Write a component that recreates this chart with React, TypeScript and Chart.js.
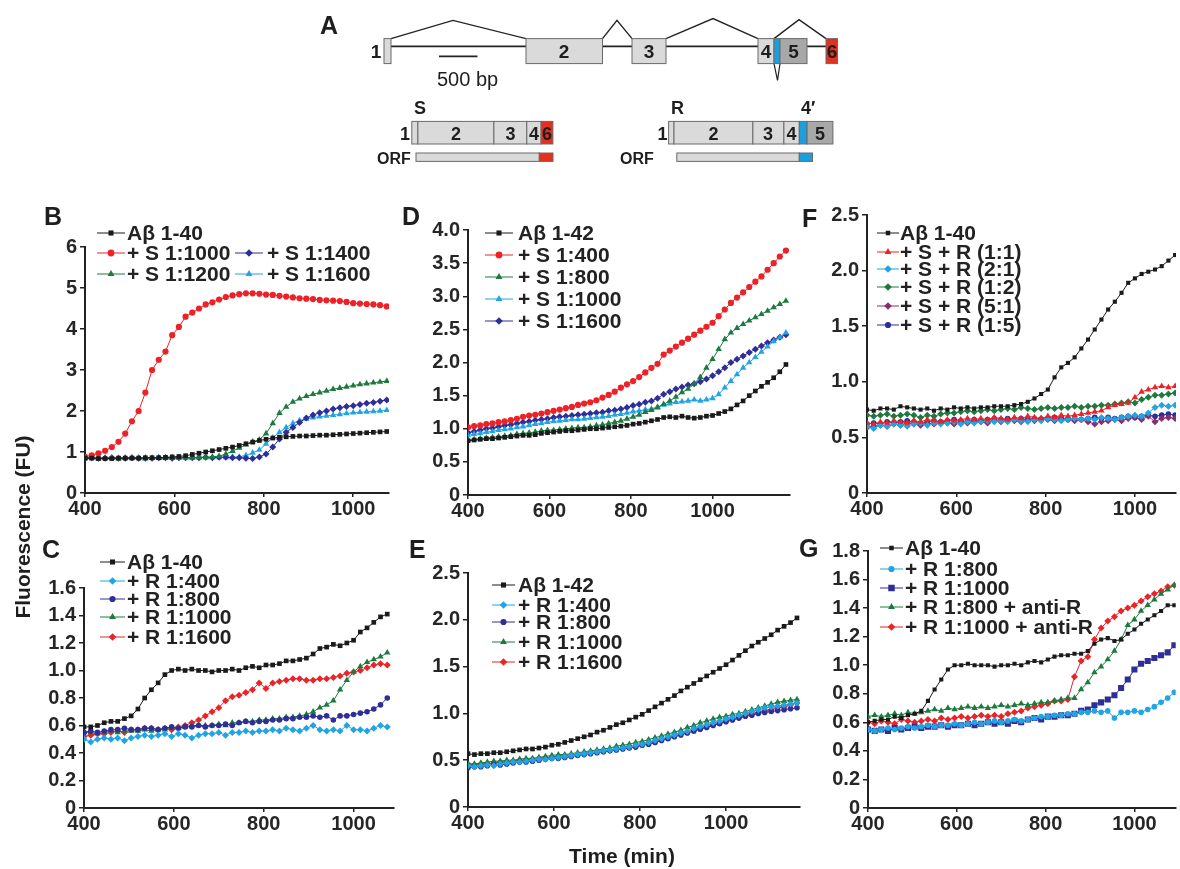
import React, { useEffect, useRef } from 'react';
import { Chart, registerables } from 'chart.js';

Chart.register(...registerables);

const FONT = "'Liberation Sans', Arial, Helvetica, sans-serif";

// ---------------- data (time step 15 min, starting at 400 min) ----------------
const T_START = 400;
const T_STEP = 15;
const X_TICKS = [400, 600, 800, 1000];

// Panel B
const B_AB40 = [0.85,0.85,0.84,0.84,0.84,0.85,0.85,0.85,0.85,0.86,0.86,0.86,0.87,0.88,0.89,0.91,0.94,0.97,1.00,1.03,1.06,1.09,1.12,1.16,1.20,1.24,1.28,1.31,1.34,1.36,1.37,1.38,1.39,1.39,1.40,1.41,1.41,1.42,1.43,1.44,1.45,1.46,1.47,1.48,1.49,1.50];
const B_S1000 = [0.88,0.92,0.97,1.03,1.12,1.25,1.45,1.75,2.00,2.45,3.00,3.25,3.45,3.85,4.05,4.30,4.40,4.50,4.60,4.65,4.72,4.78,4.82,4.85,4.87,4.87,4.86,4.84,4.83,4.81,4.79,4.77,4.75,4.74,4.73,4.71,4.70,4.69,4.68,4.66,4.63,4.62,4.61,4.60,4.58,4.55];
const B_S1200 = [0.85,0.85,0.84,0.85,0.85,0.84,0.85,0.85,0.85,0.84,0.85,0.85,0.85,0.86,0.86,0.86,0.86,0.87,0.87,0.88,0.90,0.95,1.02,1.10,1.18,1.25,1.30,1.45,1.70,1.95,2.10,2.22,2.30,2.36,2.41,2.45,2.49,2.53,2.56,2.59,2.62,2.65,2.67,2.69,2.71,2.73];
const B_S1400 = [0.85,0.86,0.85,0.85,0.86,0.85,0.85,0.86,0.85,0.85,0.85,0.86,0.86,0.85,0.86,0.86,0.86,0.86,0.87,0.86,0.87,0.87,0.86,0.86,0.85,0.84,0.88,0.95,1.12,1.32,1.48,1.60,1.72,1.83,1.90,1.96,2.00,2.05,2.08,2.11,2.13,2.16,2.19,2.21,2.24,2.27];
const B_S1600 = [0.84,0.85,0.85,0.86,0.85,0.85,0.86,0.85,0.86,0.86,0.85,0.86,0.86,0.86,0.86,0.87,0.86,0.87,0.87,0.87,0.87,0.87,0.88,0.88,0.92,0.98,1.05,1.20,1.35,1.48,1.60,1.70,1.77,1.81,1.84,1.86,1.88,1.90,1.92,1.94,1.96,1.97,1.98,1.99,2.00,2.02];

// Panel C
const C_AB40 = [0.59,0.59,0.60,0.62,0.63,0.63,0.65,0.67,0.72,0.80,0.86,0.91,0.97,1.00,1.01,1.00,1.01,1.00,1.00,0.99,1.00,1.00,1.01,1.00,1.02,1.03,1.02,1.04,1.04,1.05,1.07,1.07,1.08,1.09,1.12,1.16,1.17,1.19,1.18,1.20,1.22,1.28,1.31,1.35,1.39,1.41];
const C_R400 = [0.50,0.48,0.50,0.51,0.50,0.51,0.49,0.51,0.52,0.53,0.52,0.53,0.54,0.52,0.54,0.53,0.51,0.53,0.54,0.54,0.55,0.53,0.55,0.55,0.56,0.55,0.56,0.56,0.57,0.56,0.58,0.57,0.56,0.58,0.60,0.57,0.56,0.57,0.56,0.60,0.57,0.57,0.56,0.58,0.60,0.59];
const C_R800 = [0.55,0.56,0.55,0.56,0.57,0.57,0.58,0.57,0.57,0.58,0.58,0.57,0.58,0.59,0.58,0.59,0.59,0.60,0.59,0.60,0.60,0.61,0.60,0.62,0.63,0.62,0.63,0.63,0.64,0.64,0.65,0.65,0.66,0.66,0.67,0.66,0.67,0.64,0.67,0.67,0.68,0.69,0.70,0.72,0.75,0.80];
const C_R1000 = [0.55,0.55,0.54,0.55,0.56,0.55,0.56,0.56,0.56,0.57,0.56,0.57,0.57,0.58,0.58,0.59,0.60,0.60,0.60,0.60,0.61,0.60,0.62,0.62,0.63,0.63,0.64,0.64,0.65,0.65,0.66,0.66,0.67,0.68,0.70,0.73,0.75,0.78,0.86,0.93,0.99,1.03,1.06,1.08,1.10,1.13];
const C_R1600 = [0.52,0.53,0.54,0.54,0.55,0.56,0.55,0.57,0.57,0.58,0.58,0.57,0.58,0.57,0.59,0.60,0.62,0.64,0.67,0.70,0.73,0.78,0.81,0.82,0.84,0.86,0.91,0.87,0.91,0.92,0.93,0.94,0.94,0.93,0.93,0.94,0.94,0.95,0.96,0.98,0.99,1.00,1.02,1.04,1.05,1.04];

// Panel D
const D_AB42 = [0.82,0.83,0.84,0.85,0.85,0.86,0.87,0.88,0.89,0.90,0.90,0.91,0.93,0.94,0.95,0.96,0.97,0.97,0.98,0.99,1.00,1.00,1.01,1.02,1.03,1.04,1.05,1.07,1.08,1.10,1.12,1.14,1.17,1.18,1.17,1.19,1.17,1.16,1.17,1.19,1.20,1.23,1.26,1.30,1.36,1.42,1.50,1.57,1.64,1.70,1.77,1.86,1.97];
const D_S400 = [1.02,1.04,1.05,1.07,1.08,1.10,1.11,1.13,1.15,1.18,1.20,1.21,1.23,1.25,1.27,1.29,1.31,1.33,1.36,1.38,1.40,1.43,1.47,1.51,1.56,1.62,1.67,1.72,1.78,1.85,1.92,1.98,2.12,2.18,2.24,2.30,2.36,2.42,2.48,2.54,2.60,2.70,2.80,2.90,2.98,3.06,3.14,3.22,3.30,3.40,3.50,3.60,3.69];
const D_S800 = [0.83,0.84,0.85,0.86,0.87,0.88,0.89,0.90,0.92,0.93,0.94,0.95,0.97,0.98,0.98,0.99,1.00,1.01,1.02,1.02,1.03,1.05,1.06,1.08,1.10,1.12,1.15,1.18,1.21,1.25,1.28,1.32,1.37,1.42,1.48,1.55,1.60,1.68,1.78,1.92,2.05,2.20,2.35,2.45,2.52,2.58,2.63,2.68,2.73,2.78,2.83,2.88,2.93];
const D_S1000 = [0.90,0.92,0.93,0.95,0.96,0.98,0.99,1.00,1.02,1.03,1.05,1.07,1.08,1.10,1.11,1.12,1.13,1.14,1.14,1.15,1.16,1.17,1.18,1.19,1.21,1.22,1.24,1.26,1.27,1.29,1.30,1.33,1.36,1.38,1.40,1.41,1.42,1.44,1.42,1.44,1.46,1.52,1.62,1.72,1.82,1.92,2.00,2.08,2.16,2.24,2.32,2.38,2.45];
const D_S1600 = [0.94,0.96,0.98,1.00,1.01,1.03,1.05,1.06,1.08,1.10,1.11,1.13,1.14,1.15,1.17,1.18,1.19,1.20,1.21,1.22,1.23,1.24,1.25,1.27,1.28,1.30,1.32,1.35,1.37,1.40,1.42,1.46,1.52,1.56,1.60,1.63,1.66,1.68,1.71,1.75,1.80,1.86,1.92,2.00,2.05,2.10,2.15,2.20,2.25,2.30,2.34,2.38,2.42];

// Panel E
const E_AB42 = [0.57,0.56,0.57,0.57,0.58,0.58,0.59,0.60,0.61,0.62,0.62,0.63,0.64,0.66,0.67,0.69,0.71,0.73,0.75,0.77,0.80,0.82,0.85,0.88,0.90,0.93,0.96,0.99,1.03,1.07,1.11,1.15,1.19,1.24,1.28,1.32,1.36,1.40,1.44,1.48,1.52,1.57,1.62,1.67,1.72,1.76,1.80,1.84,1.89,1.93,1.97,2.02];
const E_R400 = [0.44,0.43,0.44,0.45,0.44,0.46,0.47,0.48,0.48,0.49,0.50,0.51,0.51,0.52,0.53,0.54,0.55,0.56,0.57,0.58,0.59,0.60,0.61,0.62,0.63,0.64,0.66,0.67,0.69,0.71,0.73,0.75,0.77,0.79,0.81,0.84,0.86,0.88,0.90,0.92,0.94,0.96,0.98,1.00,1.02,1.04,1.06,1.07,1.08,1.09,1.10,1.11];
const E_R800 = [0.42,0.43,0.43,0.44,0.45,0.45,0.46,0.47,0.48,0.48,0.49,0.50,0.51,0.52,0.52,0.53,0.54,0.55,0.56,0.57,0.58,0.59,0.60,0.61,0.62,0.63,0.64,0.66,0.67,0.69,0.71,0.73,0.75,0.77,0.79,0.81,0.83,0.85,0.87,0.89,0.91,0.93,0.95,0.97,0.98,1.00,1.01,1.02,1.03,1.04,1.05,1.06];
const E_R1000 = [0.46,0.46,0.47,0.48,0.49,0.49,0.50,0.50,0.51,0.52,0.52,0.53,0.54,0.55,0.56,0.56,0.57,0.58,0.59,0.60,0.61,0.62,0.63,0.65,0.66,0.67,0.69,0.70,0.72,0.74,0.76,0.78,0.80,0.82,0.85,0.87,0.90,0.92,0.94,0.96,0.97,0.99,1.00,1.02,1.04,1.06,1.08,1.10,1.12,1.13,1.14,1.15];
const E_R1600 = [0.46,0.45,0.46,0.46,0.47,0.48,0.48,0.49,0.50,0.50,0.51,0.52,0.52,0.53,0.54,0.55,0.55,0.56,0.57,0.58,0.59,0.60,0.61,0.62,0.63,0.64,0.65,0.67,0.68,0.70,0.72,0.74,0.76,0.78,0.80,0.82,0.84,0.86,0.88,0.90,0.92,0.94,0.96,0.98,1.00,1.01,1.03,1.04,1.06,1.07,1.09,1.11];

// Panel F
const F_AB40 = [0.75,0.74,0.76,0.76,0.75,0.78,0.77,0.76,0.75,0.76,0.74,0.76,0.75,0.77,0.76,0.77,0.76,0.77,0.77,0.78,0.78,0.78,0.79,0.80,0.82,0.85,0.89,0.93,1.04,1.13,1.17,1.22,1.30,1.38,1.47,1.56,1.65,1.72,1.80,1.89,1.93,1.97,1.99,2.01,2.04,2.09,2.14];
const F_SR11 = [0.63,0.62,0.64,0.63,0.65,0.64,0.63,0.65,0.64,0.66,0.65,0.64,0.66,0.65,0.66,0.67,0.66,0.67,0.66,0.68,0.67,0.66,0.68,0.67,0.69,0.68,0.67,0.69,0.68,0.70,0.69,0.70,0.71,0.72,0.73,0.74,0.77,0.79,0.80,0.81,0.86,0.91,0.93,0.95,0.96,0.95,0.96];
const F_SR21 = [0.60,0.58,0.61,0.60,0.62,0.61,0.60,0.62,0.63,0.61,0.63,0.62,0.63,0.64,0.62,0.64,0.63,0.64,0.65,0.64,0.65,0.64,0.66,0.65,0.64,0.66,0.65,0.67,0.66,0.65,0.66,0.67,0.66,0.67,0.66,0.68,0.67,0.66,0.68,0.69,0.70,0.69,0.72,0.77,0.79,0.78,0.79];
const F_SR12 = [0.70,0.69,0.70,0.71,0.69,0.70,0.71,0.70,0.68,0.70,0.69,0.71,0.72,0.72,0.73,0.74,0.73,0.74,0.75,0.74,0.75,0.76,0.75,0.77,0.76,0.75,0.76,0.77,0.76,0.77,0.77,0.78,0.77,0.78,0.78,0.79,0.79,0.80,0.81,0.82,0.81,0.84,0.86,0.88,0.88,0.89,0.90];
const F_SR51 = [0.59,0.60,0.61,0.60,0.62,0.61,0.63,0.62,0.61,0.63,0.62,0.64,0.63,0.62,0.64,0.63,0.65,0.64,0.63,0.65,0.64,0.66,0.65,0.64,0.66,0.65,0.67,0.66,0.65,0.67,0.66,0.65,0.66,0.64,0.62,0.64,0.65,0.66,0.65,0.67,0.68,0.66,0.69,0.64,0.67,0.68,0.67];
const F_SR15 = [0.62,0.63,0.62,0.64,0.63,0.64,0.65,0.64,0.63,0.64,0.65,0.64,0.65,0.66,0.65,0.64,0.66,0.65,0.66,0.67,0.66,0.67,0.66,0.67,0.66,0.67,0.66,0.67,0.68,0.67,0.66,0.67,0.66,0.67,0.68,0.67,0.68,0.67,0.68,0.69,0.68,0.69,0.70,0.69,0.70,0.71,0.70];

// Panel G
const G_AB40 = [0.60,0.61,0.62,0.62,0.64,0.63,0.65,0.66,0.68,0.75,0.83,0.90,0.97,1.00,1.00,1.01,1.00,1.00,1.00,0.99,1.00,1.00,1.01,1.00,1.02,1.03,1.02,1.04,1.06,1.07,1.07,1.08,1.08,1.10,1.15,1.18,1.19,1.17,1.18,1.22,1.25,1.29,1.32,1.35,1.38,1.42,1.42];
const G_R800 = [0.55,0.54,0.55,0.56,0.55,0.56,0.57,0.56,0.57,0.58,0.57,0.58,0.58,0.59,0.58,0.59,0.60,0.59,0.60,0.61,0.60,0.61,0.62,0.61,0.62,0.63,0.64,0.64,0.65,0.65,0.66,0.66,0.67,0.67,0.68,0.67,0.68,0.63,0.67,0.67,0.68,0.67,0.69,0.71,0.74,0.77,0.81];
const G_R1000 = [0.55,0.54,0.55,0.54,0.56,0.55,0.56,0.57,0.56,0.57,0.57,0.58,0.57,0.58,0.58,0.59,0.58,0.59,0.60,0.59,0.60,0.59,0.61,0.60,0.62,0.63,0.62,0.64,0.64,0.65,0.65,0.66,0.68,0.69,0.72,0.74,0.76,0.79,0.84,0.90,0.97,1.01,1.03,1.05,1.07,1.09,1.14];
const G_R800_ANTI = [0.64,0.65,0.64,0.65,0.66,0.65,0.67,0.66,0.67,0.68,0.69,0.68,0.70,0.69,0.70,0.71,0.70,0.71,0.70,0.71,0.72,0.71,0.72,0.73,0.72,0.73,0.74,0.74,0.75,0.76,0.77,0.77,0.83,0.88,0.95,0.99,1.04,1.10,1.18,1.28,1.32,1.38,1.42,1.46,1.50,1.53,1.56];
const G_R1000_ANTI = [0.60,0.59,0.61,0.60,0.59,0.62,0.61,0.60,0.61,0.62,0.61,0.63,0.62,0.63,0.64,0.63,0.64,0.65,0.64,0.65,0.64,0.66,0.67,0.68,0.70,0.71,0.72,0.73,0.75,0.75,0.76,0.92,1.03,1.06,1.18,1.26,1.31,1.34,1.38,1.40,1.42,1.45,1.48,1.50,1.52,1.55,1.56];

// y tick labels
const B_YTICKS = [0, 1, 2, 3, 4, 5, 6];
const C_YTICKS = [0, 0.2, 0.4, 0.6, 0.8, 1.0, 1.2, 1.4, 1.6];
const D_YTICKS = [0, 0.5, 1.0, 1.5, 2.0, 2.5, 3.0, 3.5, 4.0];
const E_YTICKS = [0, 0.5, 1.0, 1.5, 2.0, 2.5];
const F_YTICKS = [0, 0.5, 1.0, 1.5, 2.0, 2.5];
const G_YTICKS = [0, 0.2, 0.4, 0.6, 0.8, 1.0, 1.2, 1.4, 1.6, 1.8];

// ---------------- styles ----------------
const K = '#1a1a1a';
const RED = '#ec2227';
const GRN = '#1d7a3e';
const NAVY = '#2f2e98';
const CYAN = '#20a4e4';
const PURP = '#8a2d6e';

type Marker = 'circle' | 'rect' | 'triangle' | 'rectRot';
type Series = { label: string; values: number[]; color: string; marker: Marker; r?: number };
type Panel = {
  id: string;
  series: Series[];
  xMax: number;
  yTicks: number[];
  intLabels?: boolean;
  box: { L: number; R: number; T: number; B: number };
  legend: { dx: number[]; dy: number[]; len: number; text: number[] };
};

const RADIUS: Record<Marker, number> = { circle: 2.8, rect: 3.3, triangle: 3.7, rectRot: 3.5 };

const PANELS: Panel[] = [
  {
    id: 'B',
    series: [
      { label: 'Aβ 1-40', values: B_AB40, color: K, marker: 'rect' },
      { label: '+ S 1:1000', values: B_S1000, color: RED, marker: 'circle', r: 3.1 },
      { label: '+ S 1:1200', values: B_S1200, color: GRN, marker: 'triangle' },
      { label: '+ S 1:1400', values: B_S1400, color: NAVY, marker: 'rectRot' },
      { label: '+ S 1:1600', values: B_S1600, color: CYAN, marker: 'triangle' },
    ],
    xMax: 1080,
    yTicks: B_YTICKS,
    intLabels: true,
    box: { L: 85, R: 389, T: 247, B: 493 },
    legend: { dx: [12, 12, 12, 150, 150], dy: [-14, 6, 27, 6, 27], len: 28, text: [30, 30, 30, 32, 32] },
  },
  {
    id: 'C',
    series: [
      { label: 'Aβ 1-40', values: C_AB40, color: K, marker: 'rect' },
      { label: '+ R 1:400', values: C_R400, color: CYAN, marker: 'rectRot' },
      { label: '+ R 1:800', values: C_R800, color: NAVY, marker: 'circle' },
      { label: '+ R 1:1000', values: C_R1000, color: GRN, marker: 'triangle' },
      { label: '+ R 1:1600', values: C_R1600, color: RED, marker: 'rectRot' },
    ],
    xMax: 1090,
    yTicks: C_YTICKS,
    box: { L: 84, R: 394, T: 588, B: 808 },
    legend: { dx: [16, 16, 16, 16, 16], dy: [-26, -7, 11, 29, 49], len: 25, text: [27, 27, 27, 27, 27] },
  },
  {
    id: 'D',
    series: [
      { label: 'Aβ 1-42', values: D_AB42, color: K, marker: 'rect' },
      { label: '+ S 1:400', values: D_S400, color: RED, marker: 'circle', r: 3.1 },
      { label: '+ S 1:800', values: D_S800, color: GRN, marker: 'triangle' },
      { label: '+ S 1:1000', values: D_S1000, color: CYAN, marker: 'triangle' },
      { label: '+ S 1:1600', values: D_S1600, color: NAVY, marker: 'rectRot' },
    ],
    xMax: 1190,
    yTicks: D_YTICKS,
    box: { L: 468, R: 790, T: 230, B: 495 },
    legend: { dx: [17, 17, 17, 17, 17], dy: [3, 25, 47, 69, 91], len: 28, text: [33, 33, 33, 33, 33] },
  },
  {
    id: 'E',
    series: [
      { label: 'Aβ 1-42', values: E_AB42, color: K, marker: 'rect' },
      { label: '+ R 1:400', values: E_R400, color: CYAN, marker: 'rectRot' },
      { label: '+ R 1:800', values: E_R800, color: NAVY, marker: 'circle' },
      { label: '+ R 1:1000', values: E_R1000, color: GRN, marker: 'triangle' },
      { label: '+ R 1:1600', values: E_R1600, color: RED, marker: 'rectRot' },
    ],
    xMax: 1172,
    yTicks: E_YTICKS,
    box: { L: 468, R: 800, T: 573, B: 807 },
    legend: { dx: [24, 24, 24, 24, 24], dy: [12, 32, 49, 69, 89], len: 23, text: [26, 26, 26, 26, 26] },
  },
  {
    id: 'F',
    series: [
      { label: 'Aβ 1-40', values: F_AB40, color: K, marker: 'rect', r: 2.9 },
      { label: '+ S + R (1:1)', values: F_SR11, color: RED, marker: 'triangle' },
      { label: '+ S + R (2:1)', values: F_SR21, color: CYAN, marker: 'rectRot' },
      { label: '+ S + R (1:2)', values: F_SR12, color: GRN, marker: 'rectRot' },
      { label: '+ S + R (5:1)', values: F_SR51, color: PURP, marker: 'rectRot' },
      { label: '+ S + R (1:5)', values: F_SR15, color: NAVY, marker: 'circle' },
    ],
    xMax: 1092,
    yTicks: F_YTICKS,
    box: { L: 867, R: 1180, T: 215, B: 493 },
    legend: { dx: [10, 10, 10, 10, 10, 10], dy: [18, 37, 54, 72, 91, 110], len: 22, text: [23, 23, 23, 23, 23, 23] },
  },
  {
    id: 'G',
    series: [
      { label: 'Aβ 1-40', values: G_AB40, color: K, marker: 'rect', r: 2.9 },
      { label: '+ R 1:800', values: G_R800, color: CYAN, marker: 'circle' },
      { label: '+ R 1:1000', values: G_R1000, color: NAVY, marker: 'rect', r: 4.3 },
      { label: '+ R 1:800 + anti-R', values: G_R800_ANTI, color: GRN, marker: 'triangle' },
      { label: '+ R 1:1000 + anti-R', values: G_R1000_ANTI, color: RED, marker: 'rectRot' },
    ],
    xMax: 1093,
    yTicks: G_YTICKS,
    box: { L: 868, R: 1180, T: 551, B: 808 },
    legend: { dx: [12, 12, 12, 12, 12], dy: [-3, 18, 37, 56, 76], len: 23, text: [25, 25, 25, 25, 25] },
  },
];

const YW = 50;
const PT = 40;
const XH = 32;
const PR = 8;

function drawMarker(ctx: CanvasRenderingContext2D, m: Marker, x: number, y: number, r: number, color: string) {
  ctx.fillStyle = color;
  ctx.beginPath();
  if (m === 'circle') {
    ctx.arc(x, y, r, 0, Math.PI * 2);
  } else if (m === 'rect') {
    const s = r * Math.SQRT1_2;
    ctx.rect(x - s, y - s, 2 * s, 2 * s);
  } else if (m === 'triangle') {
    for (let k = 0; k < 3; k++) {
      const a = -Math.PI / 2 + (k * 2 * Math.PI) / 3;
      const px = x + Math.cos(a) * r;
      const py = y + Math.sin(a) * r;
      if (k === 0) ctx.moveTo(px, py);
      else ctx.lineTo(px, py);
    }
    ctx.closePath();
  } else {
    ctx.moveTo(x, y - r);
    ctx.lineTo(x + r, y);
    ctx.lineTo(x, y + r);
    ctx.lineTo(x - r, y);
    ctx.closePath();
  }
  ctx.fill();
}

function legendPlugin(panel: Panel) {
  return {
    id: 'panelLegend' + panel.id,
    afterDraw(chart: any) {
      const { ctx, chartArea } = chart;
      ctx.save();
      ctx.font = `bold 21px ${FONT}`;
      ctx.textBaseline = 'middle';
      ctx.textAlign = 'left';
      panel.series.forEach((s, i) => {
        const x0 = chartArea.left + panel.legend.dx[i];
        const y = chartArea.top + panel.legend.dy[i];
        ctx.strokeStyle = s.color;
        ctx.lineWidth = 1;
        ctx.beginPath();
        ctx.moveTo(x0, y);
        ctx.lineTo(x0 + panel.legend.len, y);
        ctx.stroke();
        drawMarker(ctx, s.marker, x0 + panel.legend.len / 2, y, (s.r ?? RADIUS[s.marker]) + 0.3, s.color);
        ctx.fillStyle = '#222';
        ctx.fillText(s.label, x0 + panel.legend.text[i], y + 1);
      });
      ctx.restore();
    },
  };
}

function fmtY(v: number, intLabels?: boolean) {
  if (v === 0) return '0';
  return intLabels ? String(Math.round(v)) : v.toFixed(1);
}

function PanelChart({ panel }: { panel: Panel }) {
  const ref = useRef<HTMLCanvasElement>(null);
  const pr = panel.box.R >= 1180 ? 0 : PR;
  const w = YW + (panel.box.R - panel.box.L) + pr;
  const h = PT + (panel.box.B - panel.box.T) + XH;

  useEffect(() => {
    if (!ref.current) return;
    const times = panel.series[0].values.map((_, i) => T_START + T_STEP * i);
    const tickFont = { family: FONT, size: 20, weight: 'bold' as const, lineHeight: 1 };
    const chart = new Chart(ref.current, {
      type: 'line',
      data: {
        datasets: panel.series.map((s) => ({
          label: s.label,
          data: s.values.map((v, i) => ({ x: times[i], y: v })),
          borderColor: s.color,
          backgroundColor: s.color,
          borderWidth: 1,
          pointStyle: s.marker,
          pointRadius: s.r ?? RADIUS[s.marker],
          pointBorderWidth: 0,
          pointBackgroundColor: s.color,
          tension: 0,
        })),
      },
      options: {
        animation: false,
        responsive: false,
        events: [],
        layout: { padding: { top: PT, right: pr, left: 0, bottom: 0 } },
        plugins: { legend: { display: false }, tooltip: { enabled: false } },
        scales: {
          x: {
            type: 'linear',
            min: 400,
            max: panel.xMax,
            afterBuildTicks: (s: any) => {
              s.ticks = X_TICKS.map((v) => ({ value: v }));
            },
            afterFit: (s: any) => {
              s.height = XH;
            },
            ticks: {
              font: tickFont,
              color: '#262626',
              padding: 2,
              maxRotation: 0,
              autoSkip: false,
              callback: (v: any) => String(v),
            },
            grid: { display: true, drawOnChartArea: false, drawTicks: true, tickLength: 4, color: '#222', lineWidth: 1.5 },
            border: { display: true, color: '#222', width: 2 },
          },
          y: {
            type: 'linear',
            min: 0,
            max: panel.yTicks[panel.yTicks.length - 1],
            afterBuildTicks: (s: any) => {
              s.ticks = panel.yTicks.map((v) => ({ value: v }));
            },
            afterFit: (s: any) => {
              s.width = YW;
            },
            ticks: {
              font: tickFont,
              color: '#262626',
              padding: 3,
              autoSkip: false,
              callback: (v: any) => fmtY(Number(v), panel.intLabels),
            },
            grid: { display: true, drawOnChartArea: false, drawTicks: true, tickLength: 5, color: '#222', lineWidth: 1.5 },
            border: { display: true, color: '#222', width: 2 },
          },
        },
      },
      plugins: [legendPlugin(panel)],
    } as any);
    return () => chart.destroy();
  }, [panel]);

  return (
    <canvas
      ref={ref}
      width={w}
      height={h}
      style={{ position: 'absolute', left: panel.box.L - YW, top: panel.box.T - PT, width: w, height: h }}
    />
  );
}

const LIGHT = '#dadada';
const DARK = '#a8a8a8';
const EDGE = '#6a6a6a';
const EX_RED = '#e3301f';
const EX_BLUE = '#1c9fdb';

function Box({ x1, x2, y1, y2, fill }: { x1: number; x2: number; y1: number; y2: number; fill: string }) {
  return <rect x={x1} y={y1} width={x2 - x1} height={y2 - y1} fill={fill} stroke={EDGE} strokeWidth={1} />;
}

function Lbl({ x, y, t, size = 19, anchor = 'middle' }: { x: number; y: number; t: string; size?: number; anchor?: string }) {
  return (
    <text x={x} y={y} fontSize={size} fontWeight="bold" textAnchor={anchor as any} fill="#1e1e1e">
      {t}
    </text>
  );
}

function Overlay() {
  const my1 = 38.6;
  const my2 = 63.6;
  const sy1 = 121.4;
  const sy2 = 144;
  const oy1 = 153;
  const oy2 = 161.4;
  return (
    <svg width={1180} height={869} style={{ position: 'absolute', left: 0, top: 0, pointerEvents: 'none' }} fontFamily={FONT}>
      {/* Panel A: gene structure */}
      <Lbl x={320} y={34} t="A" size={25} anchor="start" />
      <line x1={391} y1={46.4} x2={826} y2={46.4} stroke="#222" strokeWidth={1.6} />
      <polyline points="391,38.6 453,20.4 526,38.6" fill="none" stroke="#222" strokeWidth={1.4} />
      <polyline points="602.5,38.6 617,20.4 632,38.6" fill="none" stroke="#222" strokeWidth={1.4} />
      <polyline points="666,38.6 713,18.6 758,38.6" fill="none" stroke="#222" strokeWidth={1.4} />
      <polyline points="774,38.6 799,19.6 826,38.6" fill="none" stroke="#222" strokeWidth={1.4} />
      <polyline points="774,63.6 777.5,80.4 780,63.6" fill="none" stroke="#222" strokeWidth={1.2} />
      <Box x1={384} x2={391} y1={my1} y2={my2} fill={LIGHT} />
      <Box x1={526} x2={602.5} y1={my1} y2={my2} fill={LIGHT} />
      <Box x1={632} x2={666} y1={my1} y2={my2} fill={LIGHT} />
      <Box x1={758} x2={774} y1={my1} y2={my2} fill={LIGHT} />
      <Box x1={774} x2={780} y1={my1} y2={my2} fill={EX_BLUE} />
      <Box x1={780} x2={807} y1={my1} y2={my2} fill={DARK} />
      <Box x1={826} x2={837.5} y1={my1} y2={my2} fill={EX_RED} />
      <Lbl x={376} y={58} t="1" />
      <Lbl x={564} y={58} t="2" />
      <Lbl x={649} y={58} t="3" />
      <Lbl x={766} y={58} t="4" />
      <Lbl x={793.5} y={58} t="5" />
      <Lbl x={832} y={58} t="6" />
      <line x1={439} y1={56.4} x2={477.5} y2={56.4} stroke="#222" strokeWidth={1.8} />
      <text x={437} y={86} fontSize={20} fill="#1e1e1e">500 bp</text>

      {/* S transcript */}
      <Lbl x={414} y={114} t="S" size={18} anchor="start" />
      <Box x1={411.8} x2={417.9} y1={sy1} y2={sy2} fill={LIGHT} />
      <Box x1={417.9} x2={493.9} y1={sy1} y2={sy2} fill={LIGHT} />
      <Box x1={493.9} x2={526.8} y1={sy1} y2={sy2} fill={LIGHT} />
      <Box x1={526.8} x2={541.1} y1={sy1} y2={sy2} fill={LIGHT} />
      <Box x1={541.1} x2={552.9} y1={sy1} y2={sy2} fill={EX_RED} />
      <Lbl x={405} y={139.5} t="1" size={18} />
      <Lbl x={456} y={139.5} t="2" size={18} />
      <Lbl x={510.5} y={139.5} t="3" size={18} />
      <Lbl x={534} y={139.5} t="4" size={18} />
      <Lbl x={547} y={139.5} t="6" size={18} />
      <Box x1={416} x2={539.3} y1={oy1} y2={oy2} fill={LIGHT} />
      <Box x1={539.3} x2={553} y1={oy1} y2={oy2} fill={EX_RED} />
      <Lbl x={377} y={164} t="ORF" size={16} anchor="start" />

      {/* R transcript */}
      <Lbl x={671} y={114} t="R" size={18} anchor="start" />
      <Lbl x={801} y={114} t="4′" size={18} anchor="start" />
      <Box x1={668.6} x2={674} y1={sy1} y2={sy2} fill={LIGHT} />
      <Box x1={674} x2={752.9} y1={sy1} y2={sy2} fill={LIGHT} />
      <Box x1={752.9} x2={783.9} y1={sy1} y2={sy2} fill={LIGHT} />
      <Box x1={783.9} x2={799.3} y1={sy1} y2={sy2} fill={LIGHT} />
      <Box x1={799.3} x2={807.1} y1={sy1} y2={sy2} fill={EX_BLUE} />
      <Box x1={807.1} x2={832.9} y1={sy1} y2={sy2} fill={DARK} />
      <Lbl x={662.5} y={139.5} t="1" size={18} />
      <Lbl x={713.5} y={139.5} t="2" size={18} />
      <Lbl x={768} y={139.5} t="3" size={18} />
      <Lbl x={791.5} y={139.5} t="4" size={18} />
      <Lbl x={820} y={139.5} t="5" size={18} />
      <Box x1={676.8} x2={799.3} y1={oy1} y2={oy2} fill={LIGHT} />
      <Box x1={799.3} x2={812.5} y1={oy1} y2={oy2} fill={EX_BLUE} />
      <Lbl x={620} y={164} t="ORF" size={16} anchor="start" />

      {/* panel letters */}
      <Lbl x={44} y={225} t="B" size={25} anchor="start" />
      <Lbl x={402} y={225} t="D" size={25} anchor="start" />
      <Lbl x={802} y={227} t="F" size={25} anchor="start" />
      <Lbl x={42} y={558} t="C" size={25} anchor="start" />
      <Lbl x={409} y={558} t="E" size={25} anchor="start" />
      <Lbl x={799} y={557} t="G" size={25} anchor="start" />

      {/* axis titles */}
      <text x={30} y={527} fontSize={21} fontWeight="bold" textAnchor="middle" fill="#1e1e1e" transform="rotate(-90 30 527)">
        Fluorescence (FU)
      </text>
      <text x={622} y={863} fontSize={21} fontWeight="bold" textAnchor="middle" fill="#1e1e1e">
        Time (min)
      </text>
    </svg>
  );
}

export default function App() {
  return (
    <div style={{ position: 'absolute', left: 0, top: 0, width: 1180, height: 869, background: '#fff', overflow: 'hidden' }}>
      {PANELS.map((p) => (
        <PanelChart key={p.id} panel={p} />
      ))}
      <Overlay />
    </div>
  );
}
